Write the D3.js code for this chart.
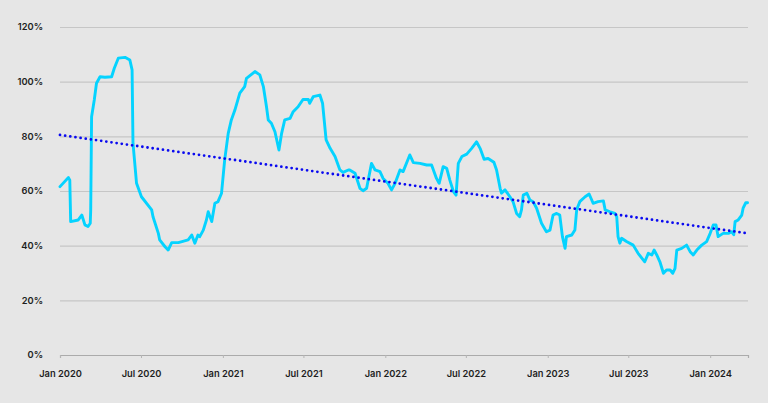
<!DOCTYPE html>
<html><head><meta charset="utf-8">
<script src="https://cdn.jsdelivr.net/npm/d3@7"></script>
<style>
html,body{margin:0;padding:0;background:#e6e6e6;}
svg{display:block;}
text{font-family:Inter,"Noto Sans",sans-serif;font-weight:600;fill:#1e1e1e;}
</style></head>
<body>
<svg id="chart" width="768" height="403"></svg>
<script>
const dates = ["2020-01-01","2020-01-20","2020-01-23","2020-01-25","2020-02-11","2020-02-19","2020-02-26","2020-03-04","2020-03-09","2020-03-10","2020-03-12","2020-03-18","2020-03-23","2020-03-31","2020-04-11","2020-04-26","2020-05-02","2020-05-11","2020-05-26","2020-06-06","2020-06-11","2020-06-13","2020-06-21","2020-07-02","2020-07-25","2020-07-28","2020-08-09","2020-08-12","2020-08-24","2020-08-31","2020-09-08","2020-09-23","2020-10-15","2020-10-23","2020-10-30","2020-11-06","2020-11-10","2020-11-18","2020-11-25","2020-11-29","2020-12-07","2020-12-14","2020-12-21","2020-12-29","2021-01-05","2021-01-13","2021-01-20","2021-01-28","2021-02-08","2021-02-19","2021-02-23","2021-03-14","2021-03-25","2021-04-02","2021-04-09","2021-04-13","2021-04-20","2021-04-28","2021-05-07","2021-05-13","2021-05-20","2021-06-01","2021-06-08","2021-06-19","2021-06-30","2021-07-12","2021-07-15","2021-07-23","2021-08-07","2021-08-13","2021-08-21","2021-08-30","2021-09-10","2021-09-21","2021-09-28","2021-10-10","2021-10-13","2021-10-25","2021-11-05","2021-11-12","2021-11-20","2021-12-01","2021-12-09","2021-12-20","2021-12-27","2022-01-07","2022-01-15","2022-01-23","2022-02-03","2022-02-10","2022-02-25","2022-03-05","2022-03-20","2022-04-04","2022-04-15","2022-04-26","2022-05-02","2022-05-11","2022-05-19","2022-05-26","2022-06-03","2022-06-09","2022-06-14","2022-06-22","2022-07-03","2022-07-14","2022-07-25","2022-08-02","2022-08-11","2022-08-20","2022-09-02","2022-09-08","2022-09-16","2022-09-19","2022-09-27","2022-10-08","2022-10-15","2022-10-23","2022-10-30","2022-11-03","2022-11-07","2022-11-15","2022-11-22","2022-11-29","2022-12-07","2022-12-18","2022-12-29","2023-01-06","2023-01-13","2023-01-21","2023-01-28","2023-02-03","2023-02-09","2023-02-12","2023-02-24","2023-03-03","2023-03-07","2023-03-14","2023-03-26","2023-04-04","2023-04-13","2023-04-24","2023-05-06","2023-05-10","2023-05-21","2023-06-01","2023-06-05","2023-06-08","2023-06-12","2023-06-16","2023-06-27","2023-07-12","2023-07-23","2023-08-07","2023-08-15","2023-08-23","2023-08-28","2023-09-03","2023-09-10","2023-09-18","2023-09-25","2023-10-03","2023-10-09","2023-10-14","2023-10-18","2023-10-29","2023-11-09","2023-11-17","2023-11-24","2023-12-02","2023-12-13","2023-12-24","2024-01-01","2024-01-08","2024-01-14","2024-01-19","2024-01-30","2024-02-11","2024-02-18","2024-02-23","2024-02-26","2024-03-04","2024-03-12","2024-03-15","2024-03-21","2024-03-25"];
const values = [61.6,64.9,64.0,48.8,49.4,51.2,47.6,47.0,48.2,53.0,87.2,93.3,99.4,101.8,101.6,101.8,104.9,108.6,108.9,107.9,104.3,77.5,62.8,57.9,53.1,50.6,44.5,42.1,39.6,38.4,41.1,41.1,42.1,43.9,40.9,43.9,43.3,45.7,49.4,52.4,48.8,55.5,56.1,59.2,71.3,81.1,86.0,89.6,95.8,98.2,101.2,103.7,102.5,98.2,90.8,86.0,84.8,81.7,75.0,81.1,86.0,86.6,89.0,90.8,93.5,93.5,92.1,94.5,95.1,92.1,78.7,75.6,72.6,67.7,66.8,67.7,67.7,66.5,61.0,60.1,61.0,70.1,67.7,67.1,64.6,62.8,60.4,62.8,67.7,67.1,73.2,70.4,70.1,69.5,69.5,64.6,62.8,68.9,68.3,64.0,59.8,58.5,70.1,72.6,73.5,75.6,78.0,75.6,71.6,71.9,70.5,67.7,61.0,59.2,60.4,57.9,56.1,51.8,50.6,53.1,58.5,59.2,56.7,56.1,53.7,48.2,45.1,45.7,51.2,51.8,51.2,43.3,39.0,43.3,43.9,45.7,53.1,56.1,57.9,58.9,55.5,56.1,56.4,53.1,52.4,51.8,50.6,43.3,40.9,42.7,41.5,40.2,37.2,34.1,37.2,36.6,38.4,36.6,34.1,29.9,31.1,31.1,29.9,31.7,38.4,39.0,40.2,37.8,36.6,38.4,40.2,41.5,44.5,47.6,47.6,43.3,44.5,44.5,45.1,44.0,48.8,49.4,51.2,53.7,55.7,55.7];
const trendDates = ["2020-01-01","2024-03-25"];
const trendValues = [80.5,44.5];
const yTicks = [0,20,40,60,80,100,120];
const xTickDates = ["2020-01-01","2020-07-01","2021-01-01","2021-07-01","2022-01-01","2022-07-01","2023-01-01","2023-07-01","2024-01-01"];

const parse = d3.timeParse("%Y-%m-%d");
const svg = d3.select("#chart");
const mLeft = 60, mRight = 748, mTop = 27, mBottom = 355;

const x = d3.scaleTime().domain([parse("2020-01-01"), parse("2024-03-26")]).range([mLeft, mRight]);
const y = d3.scaleLinear().domain([0,120]).range([mBottom, mTop]);

// gridlines
const yAxis = d3.axisLeft(y).tickValues(yTicks).tickSize(-(mRight-mLeft)).tickPadding(17).tickFormat(d => d + "%");
const gy = svg.append("g").attr("transform", `translate(${mLeft},0)`).call(yAxis);
gy.select(".domain").remove();
gy.selectAll(".tick line").attr("stroke", "#c6c6c6").attr("stroke-width", 1.2);
gy.selectAll(".tick text").attr("font-size", 9.3).attr("font-family", "Inter, sans-serif").attr("font-weight", 600).attr("fill", "#1e1e1e");

// x axis
const xAxis = d3.axisBottom(x).tickValues(xTickDates.map(parse)).tickSize(3).tickPadding(12)
  .tickFormat(d3.timeFormat("%b %Y"));
const gx = svg.append("g").attr("transform", `translate(0,${mBottom})`).call(xAxis);
gx.select(".domain").attr("stroke", "#ababab").attr("stroke-width", 1.2);
gx.selectAll(".tick line").attr("stroke", "#b5b5b5");
gx.selectAll(".tick text").attr("font-size", 9.3).attr("font-family", "Inter, sans-serif").attr("font-weight", 600).attr("fill", "#1e1e1e");

// data line
const data = dates.map((d,i) => ({date: parse(d), value: values[i]}));
svg.append("path").datum(data)
  .attr("fill", "none").attr("stroke", "#05d3ff").attr("stroke-width", 2.9)
  .attr("stroke-linejoin", "round").attr("stroke-linecap", "round")
  .attr("d", d3.line().x(d => x(d.date)).y(d => y(d.value)));

// trend line
const trend = trendDates.map((d,i) => ({date: parse(d), value: trendValues[i]}));
svg.append("path").datum(trend)
  .attr("fill", "none").attr("stroke", "#0a0af0").attr("stroke-width", 2.8)
  .attr("stroke-linecap", "round").attr("stroke-dasharray", "0 5.2")
  .attr("d", d3.line().x(d => x(d.date)).y(d => y(d.value)));
</script>
</body></html>
